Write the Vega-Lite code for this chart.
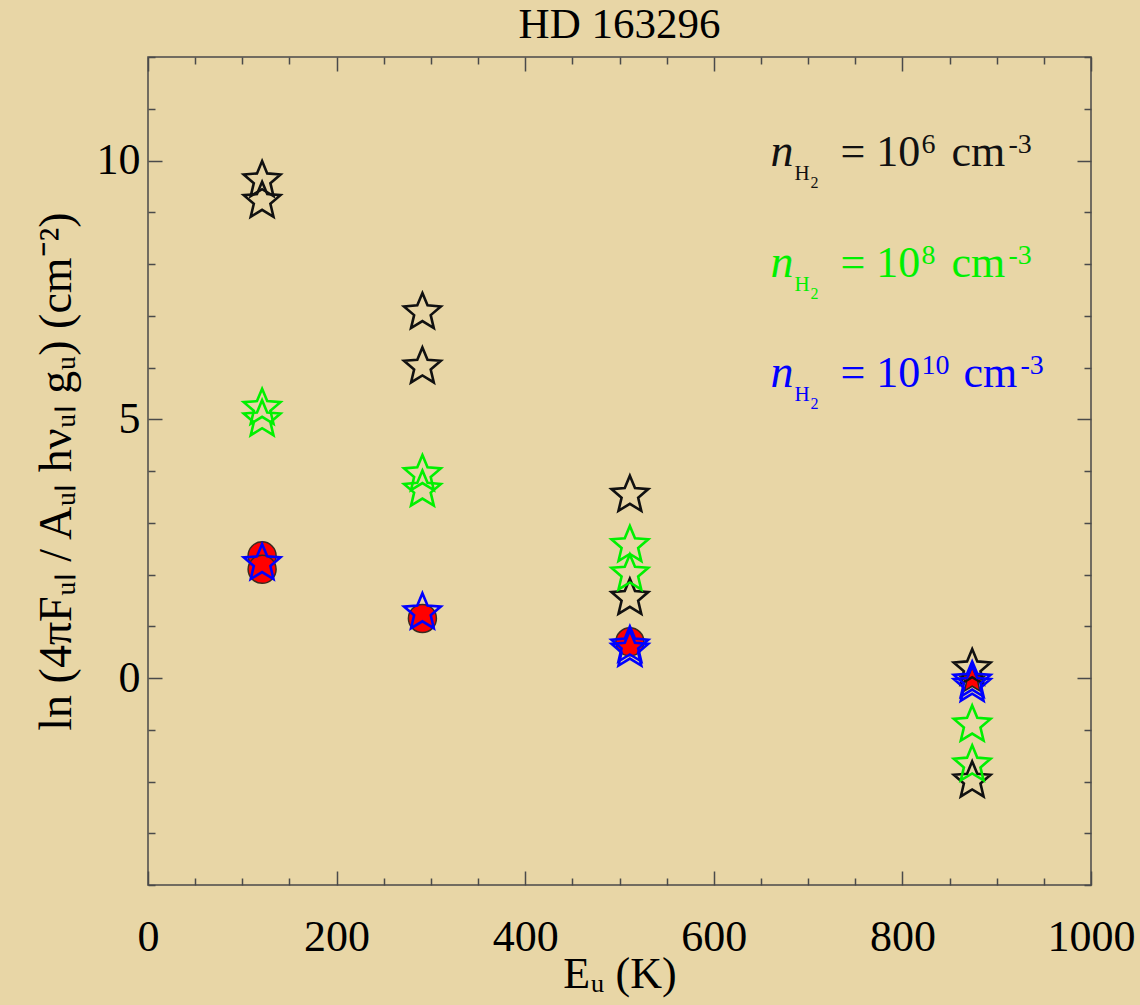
{
  "$schema": "https://vega.github.io/schema/vega-lite/v6.json",
  "width": 943,
  "height": 828,
  "autosize": "none",
  "padding": {"left": 148, "top": 57, "right": 49, "bottom": 120},
  "background": "#e8d6a6",
  "config": {
    "view": {"stroke": "#4a4a4a", "strokeWidth": 1.5, "fill": "#e8d6a6"},
    "font": "Liberation Serif"
  },
  "title": {
    "text": "HD 163296",
    "font": "Liberation Serif",
    "fontSize": 43,
    "fontWeight": "normal",
    "color": "#000000",
    "anchor": "middle",
    "offset": -12
  },
  "datasets": {
    "models": [
      {"E": 121, "lnF": 9.65, "model": "1e6"},
      {"E": 121, "lnF": 9.25, "model": "1e6"},
      {"E": 291, "lnF": 7.1, "model": "1e6"},
      {"E": 291, "lnF": 6.05, "model": "1e6"},
      {"E": 511, "lnF": 3.57, "model": "1e6"},
      {"E": 511, "lnF": 1.58, "model": "1e6"},
      {"E": 874, "lnF": 0.22, "model": "1e6"},
      {"E": 874, "lnF": -1.95, "model": "1e6"},
      {"E": 121, "lnF": 5.25, "model": "1e8"},
      {"E": 121, "lnF": 5.03, "model": "1e8"},
      {"E": 291, "lnF": 3.97, "model": "1e8"},
      {"E": 291, "lnF": 3.67, "model": "1e8"},
      {"E": 511, "lnF": 2.6, "model": "1e8"},
      {"E": 511, "lnF": 2.05, "model": "1e8"},
      {"E": 874, "lnF": -0.87, "model": "1e8"},
      {"E": 874, "lnF": -1.64, "model": "1e8"},
      {"E": 121, "lnF": 2.25, "model": "1e10"},
      {"E": 291, "lnF": 1.3, "model": "1e10"},
      {"E": 511, "lnF": 0.66, "model": "1e10"},
      {"E": 511, "lnF": 0.58, "model": "1e10"},
      {"E": 874, "lnF": -0.02, "model": "1e10"},
      {"E": 874, "lnF": -0.1, "model": "1e10"}
    ],
    "obs": [
      {"E": 121, "lnF": 2.36},
      {"E": 121, "lnF": 2.1},
      {"E": 291, "lnF": 1.15},
      {"E": 511, "lnF": 0.7}
    ],
    "obsStar": [
      {"E": 874, "lnF": -0.02}
    ],
    "legend": [
      {"grp": "1e6", "yl": 9.89, "ex": "6"},
      {"grp": "1e8", "yl": 7.75, "ex": "8"},
      {"grp": "1e10", "yl": 5.62, "ex": "10"}
    ]
  },
  "layer": [
    {
      "data": {"name": "obs"},
      "mark": {"type": "point", "shape": "circle", "filled": true, "fill": "#ff0000", "stroke": "#3a2a20", "strokeWidth": 1.5, "size": 784, "opacity": 1},
      "encoding": {
        "x": {
          "field": "E", "type": "quantitative",
          "scale": {"domain": [0, 1000], "nice": false, "zero": false},
          "axis": {
            "orient": "bottom",
            "values": [0, 50, 100, 150, 200, 250, 300, 350, 400, 450, 500, 550, 600, 650, 700, 750, 800, 850, 900, 950, 1000],
            "format": "d",
            "labelExpr": "datum.value % 200 === 0 ? datum.label : ''",
            "domain": false,
            "grid": false,
            "tickColor": "#4a4a4a",
            "tickWidth": 1.5,
            "tickSize": {"condition": {"test": "datum.value % 200 === 0", "value": -14}, "value": -7},
            "labelFont": "Liberation Serif",
            "labelFontSize": 44,
            "labelColor": "#000000",
            "labelPadding": 44,
            "labelFlush": false,
            "labelOverlap": false,
            "title": "Eᵤ (K)",
            "titleFont": "Liberation Serif",
            "titleFontSize": 44,
            "titleFontWeight": "normal",
            "titleColor": "#000000",
            "titlePadding": -14
          }
        },
        "y": {
          "field": "lnF", "type": "quantitative",
          "scale": {"domain": [-4, 12], "nice": false, "zero": false},
          "axis": {
            "orient": "left",
            "values": [-4, -3, -2, -1, 0, 1, 2, 3, 4, 5, 6, 7, 8, 9, 10, 11, 12],
            "format": "d",
            "labelExpr": "datum.value % 5 === 0 ? datum.label : ''",
            "domain": false,
            "grid": false,
            "tickColor": "#4a4a4a",
            "tickWidth": 1.5,
            "tickSize": {"condition": {"test": "datum.value % 5 === 0", "value": -14}, "value": -7},
            "labelFont": "Liberation Serif",
            "labelFontSize": 44,
            "labelColor": "#000000",
            "labelPadding": 22,
            "labelFlush": false,
            "labelOverlap": false,
            "title": "ln (4πFᵤₗ / Aᵤₗ hνᵤₗ gᵤ) (cm⁻²)",
            "titleFont": "Liberation Serif",
            "titleFontSize": 46,
            "titleFontWeight": "normal",
            "titleColor": "#000000",
            "titlePadding": 16
          }
        }
      }
    },
    {
      "data": {"name": "obs"},
      "mark": {"type": "point", "opacity": 0},
      "encoding": {
        "x": {
          "field": "E", "type": "quantitative",
          "axis": {
            "orient": "top",
            "values": [0, 50, 100, 150, 200, 250, 300, 350, 400, 450, 500, 550, 600, 650, 700, 750, 800, 850, 900, 950, 1000],
            "labels": false,
            "domain": false,
            "grid": false,
            "title": null,
            "tickColor": "#4a4a4a",
            "tickWidth": 1.5,
            "tickSize": {"condition": {"test": "datum.value % 200 === 0", "value": -14}, "value": -7}
          }
        },
        "y": {
          "field": "lnF", "type": "quantitative",
          "axis": {
            "orient": "right",
            "values": [-4, -3, -2, -1, 0, 1, 2, 3, 4, 5, 6, 7, 8, 9, 10, 11, 12],
            "labels": false,
            "domain": false,
            "grid": false,
            "title": null,
            "tickColor": "#4a4a4a",
            "tickWidth": 1.5,
            "tickSize": {"condition": {"test": "datum.value % 5 === 0", "value": -14}, "value": -7}
          }
        }
      }
    },
    {
      "data": {"name": "obsStar"},
      "mark": {"type": "point", "shape": "M0,-0.905L0.2645,-0.2691L0.9511,-0.214L0.428,0.2341L0.5878,0.904L0,0.545L-0.5878,0.904L-0.428,0.2341L-0.9511,-0.214L-0.2645,-0.2691Z", "filled": true, "fill": "#ff0000", "stroke": "#222222", "strokeWidth": 1.5, "size": 700, "opacity": 1},
      "encoding": {
        "x": {"field": "E", "type": "quantitative", "axis": null},
        "y": {"field": "lnF", "type": "quantitative", "axis": null}
      }
    },
    {
      "data": {"name": "models"},
      "mark": {"type": "point", "shape": "M0,-0.905L0.2645,-0.2691L0.9511,-0.214L0.428,0.2341L0.5878,0.904L0,0.545L-0.5878,0.904L-0.428,0.2341L-0.9511,-0.214L-0.2645,-0.2691Z", "filled": false, "strokeWidth": 2.6, "size": 1500, "opacity": 1},
      "encoding": {
        "x": {"field": "E", "type": "quantitative", "axis": null},
        "y": {"field": "lnF", "type": "quantitative", "axis": null},
        "color": {
          "field": "model", "type": "nominal",
          "scale": {"domain": ["1e6", "1e8", "1e10"], "range": ["#111111", "#00f000", "#0000ff"]},
          "legend": null
        }
      }
    },
    {
      "data": {"name": "legend"},
      "mark": {"type": "text", "text": "n", "font": "Liberation Serif", "fontStyle": "italic", "fontSize": 46, "align": "left", "baseline": "alphabetic"},
      "encoding": {
        "x": {"datum": 660, "type": "quantitative", "axis": null},
        "y": {"field": "yl", "type": "quantitative", "axis": null},
        "color": {"field": "grp", "type": "nominal", "legend": null}
      }
    },
    {
      "data": {"name": "legend"},
      "mark": {"type": "text", "text": "H", "font": "Liberation Serif", "fontSize": 21, "align": "left", "baseline": "alphabetic", "dx": 24, "dy": 14},
      "encoding": {
        "x": {"datum": 660, "type": "quantitative", "axis": null},
        "y": {"field": "yl", "type": "quantitative", "axis": null},
        "color": {"field": "grp", "type": "nominal", "legend": null}
      }
    },
    {
      "data": {"name": "legend"},
      "mark": {"type": "text", "text": "2", "font": "Liberation Serif", "fontSize": 16, "align": "left", "baseline": "alphabetic", "dx": 40, "dy": 22},
      "encoding": {
        "x": {"datum": 660, "type": "quantitative", "axis": null},
        "y": {"field": "yl", "type": "quantitative", "axis": null},
        "color": {"field": "grp", "type": "nominal", "legend": null}
      }
    },
    {
      "data": {"name": "legend"},
      "mark": {"type": "text", "text": "= 10", "font": "Liberation Serif", "fontSize": 44, "align": "left", "baseline": "alphabetic", "dx": 70},
      "encoding": {
        "x": {"datum": 660, "type": "quantitative", "axis": null},
        "y": {"field": "yl", "type": "quantitative", "axis": null},
        "color": {"field": "grp", "type": "nominal", "legend": null}
      }
    },
    {
      "data": {"name": "legend"},
      "mark": {"type": "text", "font": "Liberation Serif", "fontSize": 28, "align": "left", "baseline": "alphabetic", "dx": 151, "dy": -13},
      "encoding": {
        "x": {"datum": 660, "type": "quantitative", "axis": null},
        "y": {"field": "yl", "type": "quantitative", "axis": null},
        "text": {"field": "ex"},
        "color": {"field": "grp", "type": "nominal", "legend": null}
      }
    },
    {
      "data": {"name": "legend"},
      "transform": [{"filter": "datum.grp !== '1e10'"}],
      "mark": {"type": "text", "text": "cm", "font": "Liberation Serif", "fontSize": 44, "align": "left", "baseline": "alphabetic", "dx": 181},
      "encoding": {
        "x": {"datum": 660, "type": "quantitative", "axis": null},
        "y": {"field": "yl", "type": "quantitative", "axis": null},
        "color": {"field": "grp", "type": "nominal", "legend": null}
      }
    },
    {
      "data": {"name": "legend"},
      "transform": [{"filter": "datum.grp !== '1e10'"}],
      "mark": {"type": "text", "text": "-3", "font": "Liberation Serif", "fontSize": 28, "align": "left", "baseline": "alphabetic", "dx": 238, "dy": -13},
      "encoding": {
        "x": {"datum": 660, "type": "quantitative", "axis": null},
        "y": {"field": "yl", "type": "quantitative", "axis": null},
        "color": {"field": "grp", "type": "nominal", "legend": null}
      }
    },
    {
      "data": {"name": "legend"},
      "transform": [{"filter": "datum.grp === '1e10'"}],
      "mark": {"type": "text", "text": "cm", "font": "Liberation Serif", "fontSize": 44, "align": "left", "baseline": "alphabetic", "dx": 193},
      "encoding": {
        "x": {"datum": 660, "type": "quantitative", "axis": null},
        "y": {"field": "yl", "type": "quantitative", "axis": null},
        "color": {"field": "grp", "type": "nominal", "legend": null}
      }
    },
    {
      "data": {"name": "legend"},
      "transform": [{"filter": "datum.grp === '1e10'"}],
      "mark": {"type": "text", "text": "-3", "font": "Liberation Serif", "fontSize": 28, "align": "left", "baseline": "alphabetic", "dx": 250, "dy": -13},
      "encoding": {
        "x": {"datum": 660, "type": "quantitative", "axis": null},
        "y": {"field": "yl", "type": "quantitative", "axis": null},
        "color": {"field": "grp", "type": "nominal", "legend": null}
      }
    }
  ],
  "resolve": {"axis": {"x": "independent", "y": "independent"}}
}
